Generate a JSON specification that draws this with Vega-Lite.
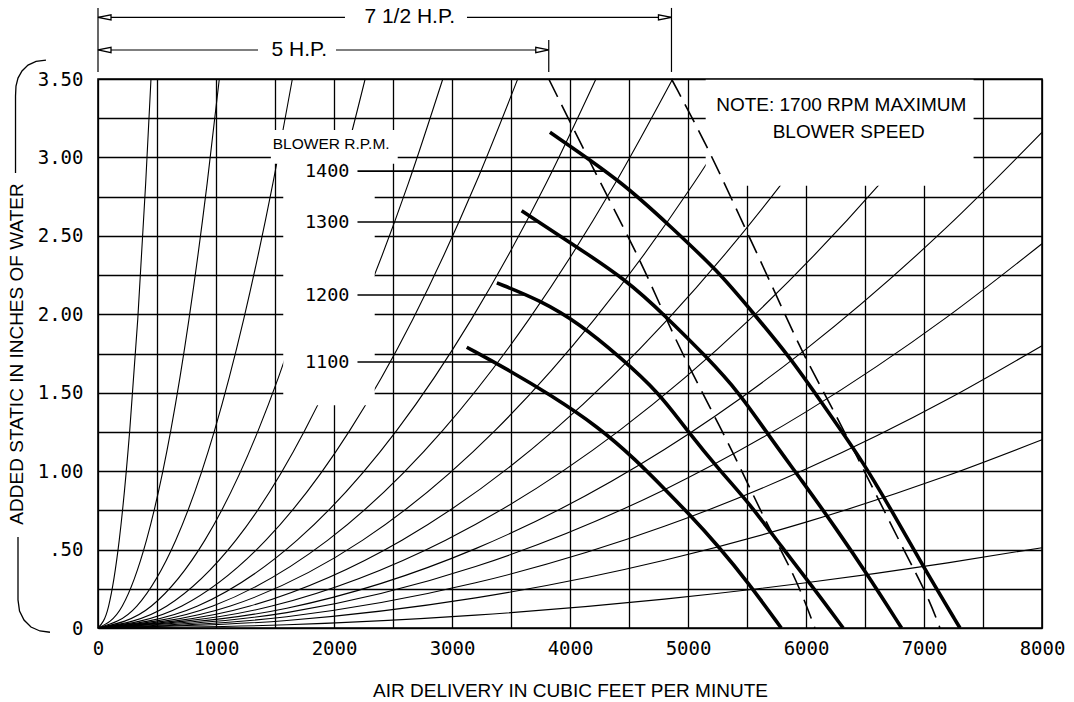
{
  "$schema": "https://vega.github.io/schema/vega-lite/v6.json",
  "width": 944,
  "height": 549,
  "autosize": {"type": "none"},
  "padding": {"left": 98, "top": 79, "right": 32, "bottom": 74},
  "background": "white",
  "config": {"view": {"stroke": null}},
  "datasets": {
    "thin": [
      {"c":"C1","x":0,"y":0},{"c":"C1","x":90,"y":0.14},{"c":"C1","x":180,"y":0.56},{"c":"C1","x":269,"y":1.26},{"c":"C1","x":337,"y":1.969},{"c":"C1","x":404,"y":2.835},{"c":"C1","x":449,"y":3.5},
      {"c":"C2","x":0,"y":0},{"c":"C2","x":206,"y":0.14},{"c":"C2","x":411,"y":0.56},{"c":"C2","x":617,"y":1.26},{"c":"C2","x":771,"y":1.969},{"c":"C2","x":925,"y":2.835},{"c":"C2","x":1028,"y":3.5},
      {"c":"C3","x":0,"y":0},{"c":"C3","x":329,"y":0.14},{"c":"C3","x":659,"y":0.56},{"c":"C3","x":988,"y":1.26},{"c":"C3","x":1235,"y":1.969},{"c":"C3","x":1482,"y":2.835},{"c":"C3","x":1647,"y":3.5},
      {"c":"C4","x":0,"y":0},{"c":"C4","x":453,"y":0.14},{"c":"C4","x":906,"y":0.56},{"c":"C4","x":1358,"y":1.26},{"c":"C4","x":1698,"y":1.969},{"c":"C4","x":2038,"y":2.835},{"c":"C4","x":2264,"y":3.5},
      {"c":"C5","x":0,"y":0},{"c":"C5","x":584,"y":0.14},{"c":"C5","x":1169,"y":0.56},{"c":"C5","x":1753,"y":1.26},{"c":"C5","x":2192,"y":1.969},{"c":"C5","x":2630,"y":2.835},{"c":"C5","x":2922,"y":3.5},
      {"c":"C6","x":0,"y":0},{"c":"C6","x":711,"y":0.14},{"c":"C6","x":1423,"y":0.56},{"c":"C6","x":2134,"y":1.26},{"c":"C6","x":2668,"y":1.969},{"c":"C6","x":3201,"y":2.835},{"c":"C6","x":3557,"y":3.5},
      {"c":"C7","x":0,"y":0},{"c":"C7","x":844,"y":0.14},{"c":"C7","x":1688,"y":0.56},{"c":"C7","x":2532,"y":1.26},{"c":"C7","x":3165,"y":1.969},{"c":"C7","x":3798,"y":2.835},{"c":"C7","x":4220,"y":3.5},
      {"c":"C8","x":0,"y":0},{"c":"C8","x":974,"y":0.14},{"c":"C8","x":1948,"y":0.56},{"c":"C8","x":2922,"y":1.26},{"c":"C8","x":3653,"y":1.969},{"c":"C8","x":4383,"y":2.835},{"c":"C8","x":4870,"y":3.5},
      {"c":"C9","x":0,"y":0},{"c":"C9","x":1122,"y":0.14},{"c":"C9","x":2244,"y":0.56},{"c":"C9","x":3366,"y":1.26},{"c":"C9","x":4208,"y":1.969},{"c":"C9","x":5049,"y":2.835},{"c":"C9","x":5610,"y":3.5},
      {"c":"C10","x":0,"y":0},{"c":"C10","x":1288,"y":0.14},{"c":"C10","x":2576,"y":0.56},{"c":"C10","x":3864,"y":1.26},{"c":"C10","x":4830,"y":1.969},{"c":"C10","x":5796,"y":2.835},{"c":"C10","x":6440,"y":3.5},
      {"c":"C11","x":0,"y":0},{"c":"C11","x":1473,"y":0.14},{"c":"C11","x":2946,"y":0.56},{"c":"C11","x":4420,"y":1.26},{"c":"C11","x":5525,"y":1.969},{"c":"C11","x":6629,"y":2.835},{"c":"C11","x":7366,"y":3.5},
      {"c":"C12","x":0,"y":0},{"c":"C12","x":1600,"y":0.126},{"c":"C12","x":3200,"y":0.506},{"c":"C12","x":4800,"y":1.138},{"c":"C12","x":6000,"y":1.778},{"c":"C12","x":7200,"y":2.56},{"c":"C12","x":8000,"y":3.16},
      {"c":"C13","x":0,"y":0},{"c":"C13","x":1600,"y":0.098},{"c":"C13","x":3200,"y":0.392},{"c":"C13","x":4800,"y":0.882},{"c":"C13","x":6000,"y":1.378},{"c":"C13","x":7200,"y":1.985},{"c":"C13","x":8000,"y":2.45},
      {"c":"C14","x":0,"y":0},{"c":"C14","x":1600,"y":0.072},{"c":"C14","x":3200,"y":0.288},{"c":"C14","x":4800,"y":0.648},{"c":"C14","x":6000,"y":1.013},{"c":"C14","x":7200,"y":1.458},{"c":"C14","x":8000,"y":1.8},
      {"c":"C15","x":0,"y":0},{"c":"C15","x":1600,"y":0.048},{"c":"C15","x":3200,"y":0.192},{"c":"C15","x":4800,"y":0.432},{"c":"C15","x":6000,"y":0.675},{"c":"C15","x":7200,"y":0.972},{"c":"C15","x":8000,"y":1.2},
      {"c":"C16","x":0,"y":0},{"c":"C16","x":1600,"y":0.0205},{"c":"C16","x":3200,"y":0.082},{"c":"C16","x":4800,"y":0.184},{"c":"C16","x":6000,"y":0.288},{"c":"C16","x":7200,"y":0.415},{"c":"C16","x":8000,"y":0.512}
    ],
    "heavy": [
      {"c":"1100","x":3125,"y":1.79},{"c":"1100","x":3490,"y":1.64},{"c":"1100","x":3825,"y":1.49},{"c":"1100","x":4245,"y":1.28},{"c":"1100","x":4560,"y":1.07},{"c":"1100","x":4810,"y":0.88},{"c":"1100","x":5005,"y":0.73},{"c":"1100","x":5260,"y":0.52},{"c":"1100","x":5510,"y":0.29},{"c":"1100","x":5790,"y":0},
      {"c":"1200","x":3380,"y":2.2},{"c":"1200","x":3745,"y":2.09},{"c":"1200","x":4080,"y":1.94},{"c":"1200","x":4420,"y":1.73},{"c":"1200","x":4755,"y":1.5},{"c":"1200","x":4990,"y":1.26},{"c":"1200","x":5285,"y":0.99},{"c":"1200","x":5515,"y":0.8},{"c":"1200","x":5790,"y":0.52},{"c":"1200","x":6080,"y":0.24},{"c":"1200","x":6315,"y":0},
      {"c":"1300","x":3590,"y":2.66},{"c":"1300","x":3975,"y":2.47},{"c":"1300","x":4480,"y":2.22},{"c":"1300","x":4820,"y":1.98},{"c":"1300","x":5155,"y":1.73},{"c":"1300","x":5435,"y":1.5},{"c":"1300","x":5690,"y":1.22},{"c":"1300","x":5965,"y":0.94},{"c":"1300","x":6250,"y":0.64},{"c":"1300","x":6530,"y":0.33},{"c":"1300","x":6810,"y":0},
      {"c":"1400","x":3830,"y":3.16},{"c":"1400","x":4450,"y":2.84},{"c":"1400","x":4850,"y":2.56},{"c":"1400","x":5250,"y":2.28},{"c":"1400","x":5550,"y":2.01},{"c":"1400","x":5860,"y":1.73},{"c":"1400","x":6130,"y":1.44},{"c":"1400","x":6475,"y":1.07},{"c":"1400","x":6725,"y":0.75},{"c":"1400","x":6995,"y":0.39},{"c":"1400","x":7305,"y":0}
    ],
    "hp": [
      {"c":"5 HP","x":3820,"y":3.5},{"c":"5 HP","x":4255,"y":2.84},{"c":"5 HP","x":4595,"y":2.35},{"c":"5 HP","x":4820,"y":1.96},{"c":"5 HP","x":5010,"y":1.66},{"c":"5 HP","x":5405,"y":1.09},{"c":"5 HP","x":5660,"y":0.67},{"c":"5 HP","x":5910,"y":0.33},{"c":"5 HP","x":6075,"y":0},
      {"c":"7.5 HP","x":4860,"y":3.5},{"c":"7.5 HP","x":5165,"y":3.07},{"c":"7.5 HP","x":5440,"y":2.62},{"c":"7.5 HP","x":5720,"y":2.17},{"c":"7.5 HP","x":5970,"y":1.75},{"c":"7.5 HP","x":6220,"y":1.41},{"c":"7.5 HP","x":6615,"y":0.82},{"c":"7.5 HP","x":6840,"y":0.48},{"c":"7.5 HP","x":7035,"y":0.2},{"c":"7.5 HP","x":7135,"y":0}
    ],
    "boxes": [
      {"x":1465,"x2":2540,"y":2.96,"y2":3.175},
      {"x":1570,"x2":2345,"y":1.42,"y2":2.96},
      {"x":5150,"x2":7420,"y":2.82,"y2":3.5}
    ],
    "leaders": [
      {"t":"1400","x":2199,"x2":4307,"y":2.913},
      {"t":"1300","x":2199,"x2":3736,"y":2.588},
      {"t":"1200","x":2199,"x2":3636,"y":2.123},
      {"t":"1100","x":2199,"x2":3355,"y":1.696}
    ],
    "rpm": [
      {"t":"1400","x":2131,"y":2.913},
      {"t":"1300","x":2131,"y":2.588},
      {"t":"1200","x":2131,"y":2.123},
      {"t":"1100","x":2131,"y":1.696}
    ],
    "frame": [{"x":0,"x2":8000,"y":0,"y2":3.5}],
    "blower": [{"t":"BLOWER R.P.M.","x":1976,"y":3.086}],
    "notes": [
      {"t":"NOTE: 1700 RPM MAXIMUM","x":6299,"y":3.337},
      {"t":"BLOWER SPEED","x":6362,"y":3.159}
    ],
    "hptext": [
      {"t":"7 1/2 H.P.","x":2642,"y":3.893},
      {"t":"5 H.P.","x":1706,"y":3.685}
    ],
    "dims": [
      {"x":0,"x2":2093,"y":3.893},{"x":3127,"x2":4860,"y":3.893},
      {"x":0,"x2":1356,"y":3.685},{"x":2017,"x2":3820,"y":3.685}
    ],
    "ext": [
      {"x":0,"y":3.545,"y2":3.953},
      {"x":3820,"y":3.545,"y2":3.749},
      {"x":4860,"y":3.545,"y2":3.953}
    ],
    "arrows": [
      {"s":"L","x":55,"y":3.893},{"s":"R","x":4805,"y":3.893},
      {"s":"L","x":55,"y":3.685},{"s":"R","x":3765,"y":3.685}
    ],
    "bracket": [
      {"c":"top","i":0,"x":-441,"y":3.621},{"c":"top","i":1,"x":-525,"y":3.612},{"c":"top","i":2,"x":-593,"y":3.589},{"c":"top","i":3,"x":-644,"y":3.551},{"c":"top","i":4,"x":-678,"y":3.506},{"c":"top","i":5,"x":-695,"y":3.455},{"c":"top","i":6,"x":-699,"y":3.391},{"c":"top","i":7,"x":-699,"y":2.901},
      {"c":"bot","i":0,"x":-678,"y":0.58},{"c":"bot","i":1,"x":-678,"y":0.179},{"c":"bot","i":2,"x":-665,"y":0.108},{"c":"bot","i":3,"x":-627,"y":0.051},{"c":"bot","i":4,"x":-568,"y":0.006},{"c":"bot","i":5,"x":-492,"y":-0.019},{"c":"bot","i":6,"x":-407,"y":-0.027}
    ]
  },
  "encoding": {
    "x": {
      "field": "x", "type": "quantitative",
      "scale": {"domain": [0, 8000], "nice": false, "zero": false},
      "axis": {
        "values": [0,500,1000,1500,2000,2500,3000,3500,4000,4500,5000,5500,6000,6500,7000,7500,8000],
        "grid": true, "gridColor": "#000", "gridWidth": 1.3, "gridOpacity": 1,
        "ticks": false, "domain": false,
        "labelExpr": "datum.value % 1000 === 0 ? format(datum.value, 'd') : ''",
        "labelFont": "DejaVu Sans Mono", "labelFontSize": 19, "labelColor": "#000",
        "labelPadding": 11, "labelOverlap": false, "labelFlush": false, "labelBound": false,
        "title": "AIR DELIVERY IN CUBIC FEET PER MINUTE",
        "titleFont": "Liberation Sans", "titleFontSize": 19, "titleFontWeight": "normal",
        "titleColor": "#000", "titleBaseline": "middle", "titleY": 62
      }
    },
    "y": {
      "field": "y", "type": "quantitative",
      "scale": {"domain": [0, 3.5], "nice": false, "zero": false},
      "axis": {
        "values": [0,0.25,0.5,0.75,1,1.25,1.5,1.75,2,2.25,2.5,2.75,3,3.25,3.5],
        "grid": true, "gridColor": "#000", "gridWidth": 1.3, "gridOpacity": 1,
        "ticks": false, "domain": false,
        "labelExpr": "datum.value === 0 ? '0' : (datum.value * 4) % 2 !== 0 ? '' : datum.value < 1 ? '.50' : format(datum.value, '.2f')",
        "labelFont": "DejaVu Sans Mono", "labelFontSize": 19, "labelColor": "#000",
        "labelPadding": 15, "labelOverlap": false, "labelFlush": false, "labelBound": false,
        "title": "ADDED STATIC IN INCHES OF WATER",
        "titleFont": "Liberation Sans", "titleFontSize": 19, "titleFontWeight": "normal",
        "titleColor": "#000", "titleBaseline": "middle", "titleX": -81.5
      }
    }
  },
  "layer": [
    {
      "data": {"name": "thin"},
      "mark": {"type": "line", "interpolate": "monotone", "color": "#000", "strokeWidth": 1.1},
      "encoding": {"detail": {"field": "c"}}
    },
    {
      "data": {"name": "boxes"},
      "mark": {"type": "rect", "fill": "white", "stroke": null},
      "encoding": {"x2": {"field": "x2"}, "y2": {"field": "y2"}}
    },
    {
      "data": {"name": "heavy"},
      "mark": {"type": "line", "interpolate": "basis", "color": "#000", "strokeWidth": 3.6},
      "encoding": {"detail": {"field": "c"}}
    },
    {
      "data": {"name": "hp"},
      "mark": {"type": "line", "interpolate": "basis", "color": "#000", "strokeWidth": 1.6, "strokeDash": [20, 9]},
      "encoding": {"detail": {"field": "c"}}
    },
    {
      "data": {"name": "leaders"},
      "mark": {"type": "rule", "color": "#000", "strokeWidth": 1.6},
      "encoding": {"x2": {"field": "x2"}}
    },
    {
      "data": {"name": "frame"},
      "mark": {"type": "rect", "fill": null, "fillOpacity": 0, "stroke": "#000", "strokeWidth": 1.6},
      "encoding": {"x2": {"field": "x2"}, "y2": {"field": "y2"}}
    },
    {
      "data": {"name": "rpm"},
      "mark": {"type": "text", "align": "right", "baseline": "middle", "font": "DejaVu Sans Mono", "fontSize": 18.5, "color": "#000"},
      "encoding": {"text": {"field": "t"}}
    },
    {
      "data": {"name": "blower"},
      "mark": {"type": "text", "align": "center", "baseline": "middle", "font": "Liberation Sans", "fontSize": 15.5, "color": "#000"},
      "encoding": {"text": {"field": "t"}}
    },
    {
      "data": {"name": "notes"},
      "mark": {"type": "text", "align": "center", "baseline": "middle", "font": "Liberation Sans", "fontSize": 19, "color": "#000"},
      "encoding": {"text": {"field": "t"}}
    },
    {
      "data": {"name": "hptext"},
      "mark": {"type": "text", "align": "center", "baseline": "middle", "font": "Liberation Sans", "fontSize": 21, "color": "#000"},
      "encoding": {"text": {"field": "t"}}
    },
    {
      "data": {"name": "dims"},
      "mark": {"type": "rule", "color": "#000", "strokeWidth": 1.2},
      "encoding": {"x2": {"field": "x2"}}
    },
    {
      "data": {"name": "ext"},
      "mark": {"type": "rule", "color": "#000", "strokeWidth": 1.2},
      "encoding": {"y2": {"field": "y2"}}
    },
    {
      "data": {"name": "arrows"},
      "mark": {"type": "point", "filled": true, "fill": "white", "stroke": "#000", "strokeWidth": 1.3, "size": 170, "opacity": 1},
      "encoding": {
        "shape": {"field": "s", "type": "nominal", "legend": null,
          "scale": {"domain": ["L", "R"], "range": ["M-1,0L1,-0.4L1,0.4Z", "M1,0L-1,-0.4L-1,0.4Z"]}}
      }
    },
    {
      "data": {"name": "bracket"},
      "mark": {"type": "line", "color": "#000", "strokeWidth": 1.3},
      "encoding": {"detail": {"field": "c"}, "order": {"field": "i", "type": "quantitative"}}
    }
  ]
}
